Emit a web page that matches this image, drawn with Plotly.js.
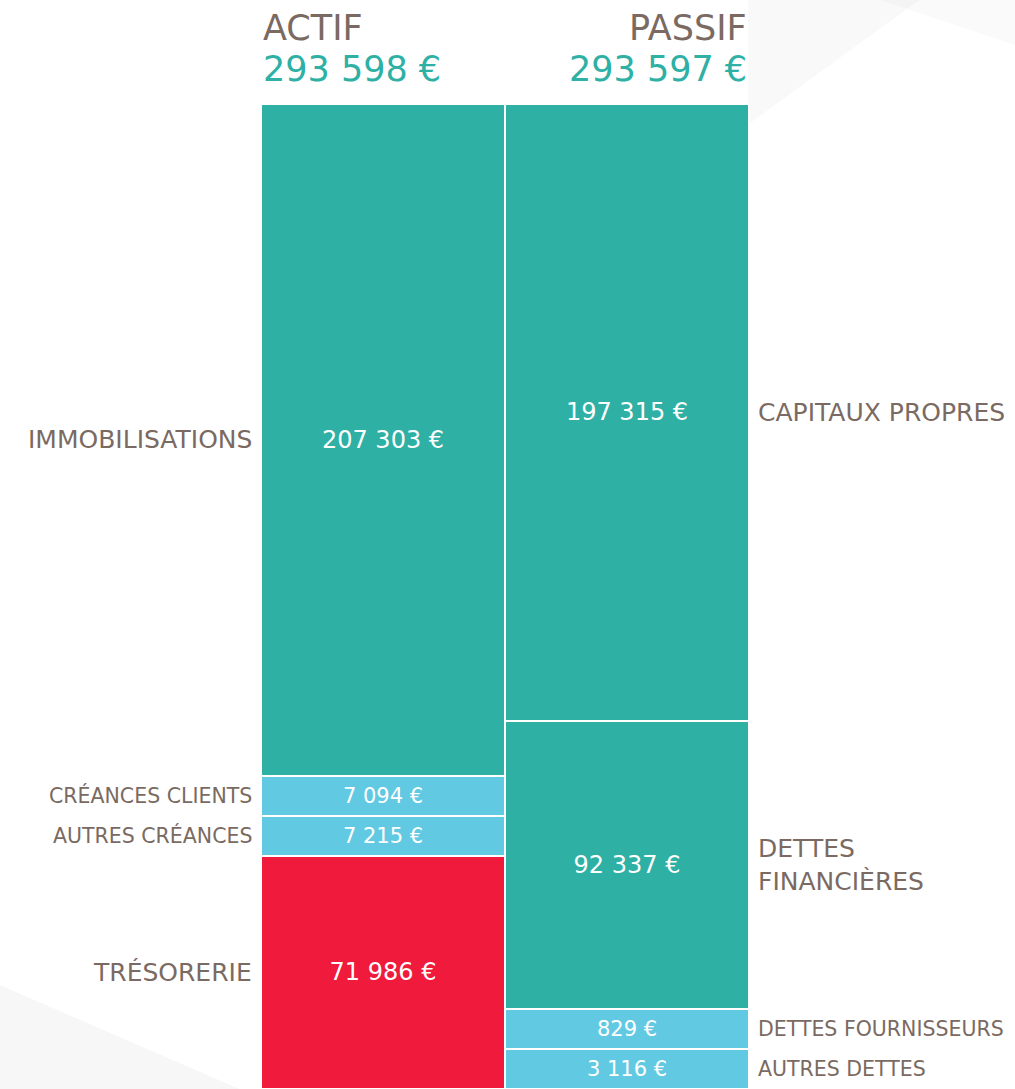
<!DOCTYPE html>
<html><head><meta charset="utf-8">
<script src="https://cdn.plot.ly/plotly-3.0.1.min.js"></script>
<style>html,body{margin:0;padding:0;background:#fff;}#chart{width:1015px;height:1089px;}</style>
</head><body><div id="chart"></div>
<script>
// ---- data ----
const columns = ["ACTIF", "PASSIF"];
const columnTotals = [293598, 293597];
// listed top to bottom
const actifLabels = ["IMMOBILISATIONS", "CRÉANCES CLIENTS", "AUTRES CRÉANCES", "TRÉSORERIE"];
const actifValues = [207303, 7094, 7215, 71986];
const passifLabels = ["CAPITAUX PROPRES", "DETTES<br>FINANCIÈRES", "DETTES FOURNISSEURS", "AUTRES DETTES"];
const passifValues = [197315, 92337, 829, 3116];

// ---- style ----
const TEAL = "#2EB0A5", BLUE = "#62C9E2", RED = "#EF1A3C", BROWN = "#7A6A62";
const actifColors = [TEAL, BLUE, BLUE, RED];
const passifColors = [TEAL, TEAL, BLUE, BLUE];
const FONT = "DejaVu Sans, sans-serif";
const MIN_SHARE = 40 / 985;   // small items get a fixed minimum block
const SMALL_LIMIT = 0.05;

function fmt(v) { return String(v).replace(/\B(?=(\d{3})+(?!\d))/g, " ") + " €"; }

// display heights: small items fixed, large items proportional to the rest
function displayHeights(values) {
  const total = values.reduce((a, b) => a + b, 0);
  const small = values.map(v => v / total < SMALL_LIMIT);
  const nSmall = small.filter(Boolean).length;
  const bigSum = values.reduce((a, v, i) => a + (small[i] ? 0 : v), 0);
  const rest = 1 - nSmall * MIN_SHARE;
  return values.map((v, i) => small[i] ? MIN_SHARE : v / bigSum * rest);
}

const traces = [];
const annotations = [];
function addColumn(col, labels, values, colors, side) {
  const h = displayHeights(values);
  let base = 0;
  const centers = new Array(values.length);
  for (let i = values.length - 1; i >= 0; i--) {   // stack from bottom up
    const small = h[i] === MIN_SHARE;
    traces.push({
      type: "bar", x: [col], y: [h[i]],
      text: [fmt(values[i])], textposition: "inside", insidetextanchor: "middle",
      textangle: 0, constraintext: "none",
      textfont: { family: FONT, size: small ? 21 : 24, color: "#ffffff" },
      marker: { color: colors[i], line: { color: "#ffffff", width: 2 } },
      hoverinfo: "skip", showlegend: false, cliponaxis: false
    });
    centers[i] = base + h[i] / 2;
    base += h[i];
  }
  labels.forEach((lab, i) => {
    const small = h[i] === MIN_SHARE;
    annotations.push({
      x: col, y: centers[i], xref: "x", yref: "y",
      text: lab, showarrow: false,
      xanchor: side === "left" ? "right" : "left",
      xshift: side === "left" ? -129 : 129,
      font: { family: FONT, size: small ? 20.5 : 25, color: BROWN },
      align: "left"
    });
  });
}
addColumn(columns[0], actifLabels, actifValues, actifColors, "left");
addColumn(columns[1], passifLabels, passifValues, passifColors, "right");

// headers
columns.forEach((c, i) => {
  const left = i === 0;
  annotations.push({
    x: c, xref: "x", y: 1, yref: "paper", yanchor: "bottom", yshift: 55, borderpad: 0,
    xanchor: left ? "left" : "right", xshift: left ? -121 : 121,
    text: c, showarrow: false,
    font: { family: FONT, size: 35, color: BROWN }
  });
  annotations.push({
    x: c, xref: "x", y: 1, yref: "paper", yanchor: "bottom", yshift: 14, borderpad: 0,
    xanchor: left ? "left" : "right", xshift: left ? -121 : 121,
    text: fmt(columnTotals[i]), showarrow: false,
    font: { family: FONT, size: 35, color: TEAL }
  });
});

// faint decorative background facets
const shapes = [
  { type: "path", xref: "paper", yref: "paper", layer: "below",
    path: "M 0 0.1056 L 0.236 0 L 0 0 Z", fillcolor: "rgba(0,0,0,0.03)", line: { width: 0 } },
  { type: "path", xref: "paper", yref: "paper", layer: "below",
    path: "M 0.737 1.1056 L 0.906 1.1056 L 0.737 0.979 Z", fillcolor: "rgba(0,0,0,0.025)", line: { width: 0 } },
  { type: "path", xref: "paper", yref: "paper", layer: "below",
    path: "M 0.867 1.1056 L 1 1.1056 L 1 1.06 Z", fillcolor: "rgba(0,0,0,0.02)", line: { width: 0 } }
];

const layout = {
  width: 1015, height: 1089,
  margin: { l: 0, r: 0, t: 104, b: 0 },
  paper_bgcolor: "#ffffff", plot_bgcolor: "rgba(0,0,0,0)",
  barmode: "stack", bargap: 0,
  xaxis: { type: "category", range: [-1.5697, 2.5902], visible: false, fixedrange: true },
  yaxis: { range: [0, 1], visible: false, fixedrange: true },
  annotations: annotations, shapes: shapes,
  showlegend: false, font: { family: FONT }
};
Plotly.newPlot("chart", traces, layout, { displayModeBar: false, staticPlot: true });
</script></body></html>
